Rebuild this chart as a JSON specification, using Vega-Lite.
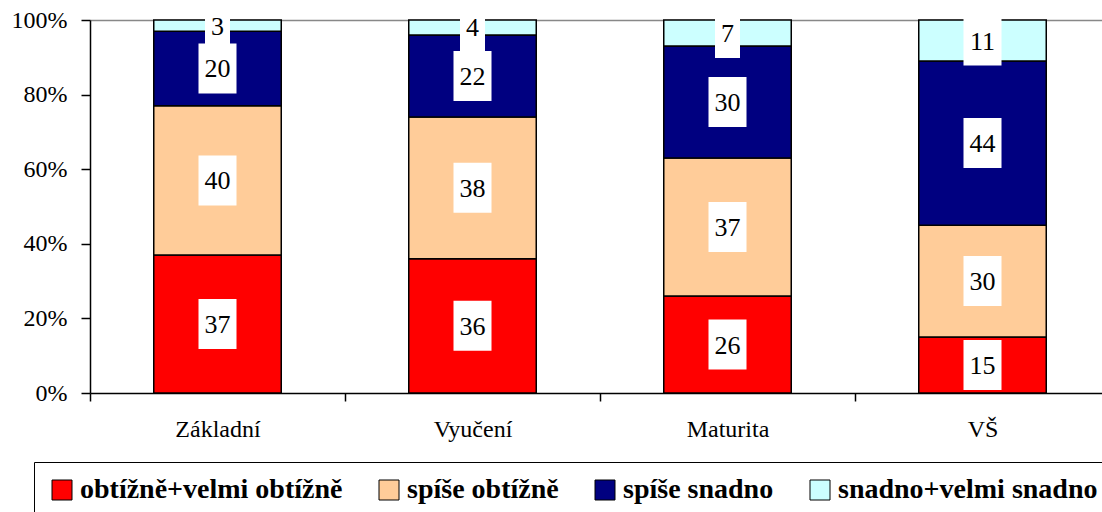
{
  "$schema": "https://vega.github.io/schema/vega-lite/v6.json",
  "autosize": {"type": "none"},
  "padding": {"left": 90, "top": 20, "right": 0, "bottom": 119},
  "width": 1012,
  "height": 373,
  "background": "white",
  "config": {"view": {"stroke": null}, "font": "Liberation Serif"},
  "data": {
    "values": [
      {"edu": "Základní", "cat": "obtížně+velmi obtížně", "ord": 1, "pct": 37},
      {"edu": "Základní", "cat": "spíše obtížně", "ord": 2, "pct": 40},
      {"edu": "Základní", "cat": "spíše snadno", "ord": 3, "pct": 20},
      {"edu": "Základní", "cat": "snadno+velmi snadno", "ord": 4, "pct": 3},
      {"edu": "Vyučení", "cat": "obtížně+velmi obtížně", "ord": 1, "pct": 36},
      {"edu": "Vyučení", "cat": "spíše obtížně", "ord": 2, "pct": 38},
      {"edu": "Vyučení", "cat": "spíše snadno", "ord": 3, "pct": 22},
      {"edu": "Vyučení", "cat": "snadno+velmi snadno", "ord": 4, "pct": 4},
      {"edu": "Maturita", "cat": "obtížně+velmi obtížně", "ord": 1, "pct": 26},
      {"edu": "Maturita", "cat": "spíše obtížně", "ord": 2, "pct": 37},
      {"edu": "Maturita", "cat": "spíše snadno", "ord": 3, "pct": 30},
      {"edu": "Maturita", "cat": "snadno+velmi snadno", "ord": 4, "pct": 7},
      {"edu": "VŠ", "cat": "obtížně+velmi obtížně", "ord": 1, "pct": 15},
      {"edu": "VŠ", "cat": "spíše obtížně", "ord": 2, "pct": 30},
      {"edu": "VŠ", "cat": "spíše snadno", "ord": 3, "pct": 44},
      {"edu": "VŠ", "cat": "snadno+velmi snadno", "ord": 4, "pct": 11}
    ]
  },
  "transform": [
    {"stack": "pct", "groupby": ["edu"], "sort": [{"field": "ord", "order": "ascending"}], "offset": "normalize", "as": ["y0", "y1"]},
    {"calculate": "(datum.y0 + datum.y1) / 2", "as": "ym"}
  ],
  "encoding": {
    "x": {
      "field": "edu", "type": "nominal", "sort": ["Základní", "Vyučení", "Maturita", "VŠ"],
      "scale": {"paddingInner": 0.5, "paddingOuter": 0.25, "range": [0, 1020]},
      "axis": {
        "title": null, "labelAngle": 0, "labelFont": "Liberation Serif", "labelFontSize": 24, "labelColor": "black",
        "domainColor": "black", "domainWidth": 1.5, "tickColor": "black", "tickWidth": 1.5, "tickSize": 8,
        "bandPosition": 0, "tickOffset": -63.75, "labelOffset": 63.75, "labelPadding": 16, "grid": false
      }
    }
  },
  "layer": [
    {
      "mark": {"type": "bar", "stroke": "black", "strokeWidth": 1.5},
      "encoding": {
        "y": {
          "field": "y0", "type": "quantitative", "scale": {"domain": [0, 1], "nice": false},
          "axis": {
            "title": null, "format": ".0%", "values": [0, 0.2, 0.4, 0.6, 0.8, 1],
            "labelFont": "Liberation Serif", "labelFontSize": 24, "labelColor": "black",
            "domainColor": "black", "domainWidth": 1.5, "tickColor": "black", "tickWidth": 1.5, "tickSize": 9,
            "labelPadding": 14, "grid": true, "gridColor": "#888888", "gridWidth": 1.5,
            "gridOpacity": {"condition": {"test": "datum.value === 1", "value": 1}, "value": 0}
          }
        },
        "y2": {"field": "y1"},
        "color": {
          "field": "cat", "type": "nominal",
          "scale": {
            "domain": ["obtížně+velmi obtížně", "spíše obtížně", "spíše snadno", "snadno+velmi snadno"],
            "range": ["#FF0000", "#FFCC99", "#000080", "#CCFFFF"]
          },
          "legend": {
            "title": null, "orient": "none", "legendX": -56, "legendY": 442, "direction": "horizontal",
            "symbolType": "square", "symbolSize": 400, "symbolStrokeColor": "black", "symbolStrokeWidth": 1, "symbolOpacity": 1,
            "labelFont": "Liberation Serif", "labelFontWeight": "bold", "labelFontSize": 28, "labelColor": "black",
            "labelLimit": 500, "labelOffset": 4, "columnPadding": 32, "padding": 14,
            "strokeColor": "black", "fillColor": "white"
          }
        }
      }
    },
    {
      "transform": [{"filter": "datum.pct >= 10"}],
      "mark": {"type": "tick", "orient": "horizontal", "color": "white", "opacity": 1, "size": 38, "thickness": 50},
      "encoding": {"y": {"field": "ym", "type": "quantitative"}}
    },
    {
      "transform": [{"filter": "datum.pct < 10"}],
      "mark": {"type": "tick", "orient": "horizontal", "color": "white", "opacity": 1, "size": 25, "thickness": 50},
      "encoding": {"y": {"field": "ym", "type": "quantitative"}}
    },
    {
      "mark": {"type": "text", "font": "Liberation Serif", "fontSize": 26, "color": "black", "baseline": "middle", "dy": 1},
      "encoding": {
        "y": {"field": "ym", "type": "quantitative"},
        "text": {"field": "pct", "type": "quantitative"}
      }
    }
  ]
}
